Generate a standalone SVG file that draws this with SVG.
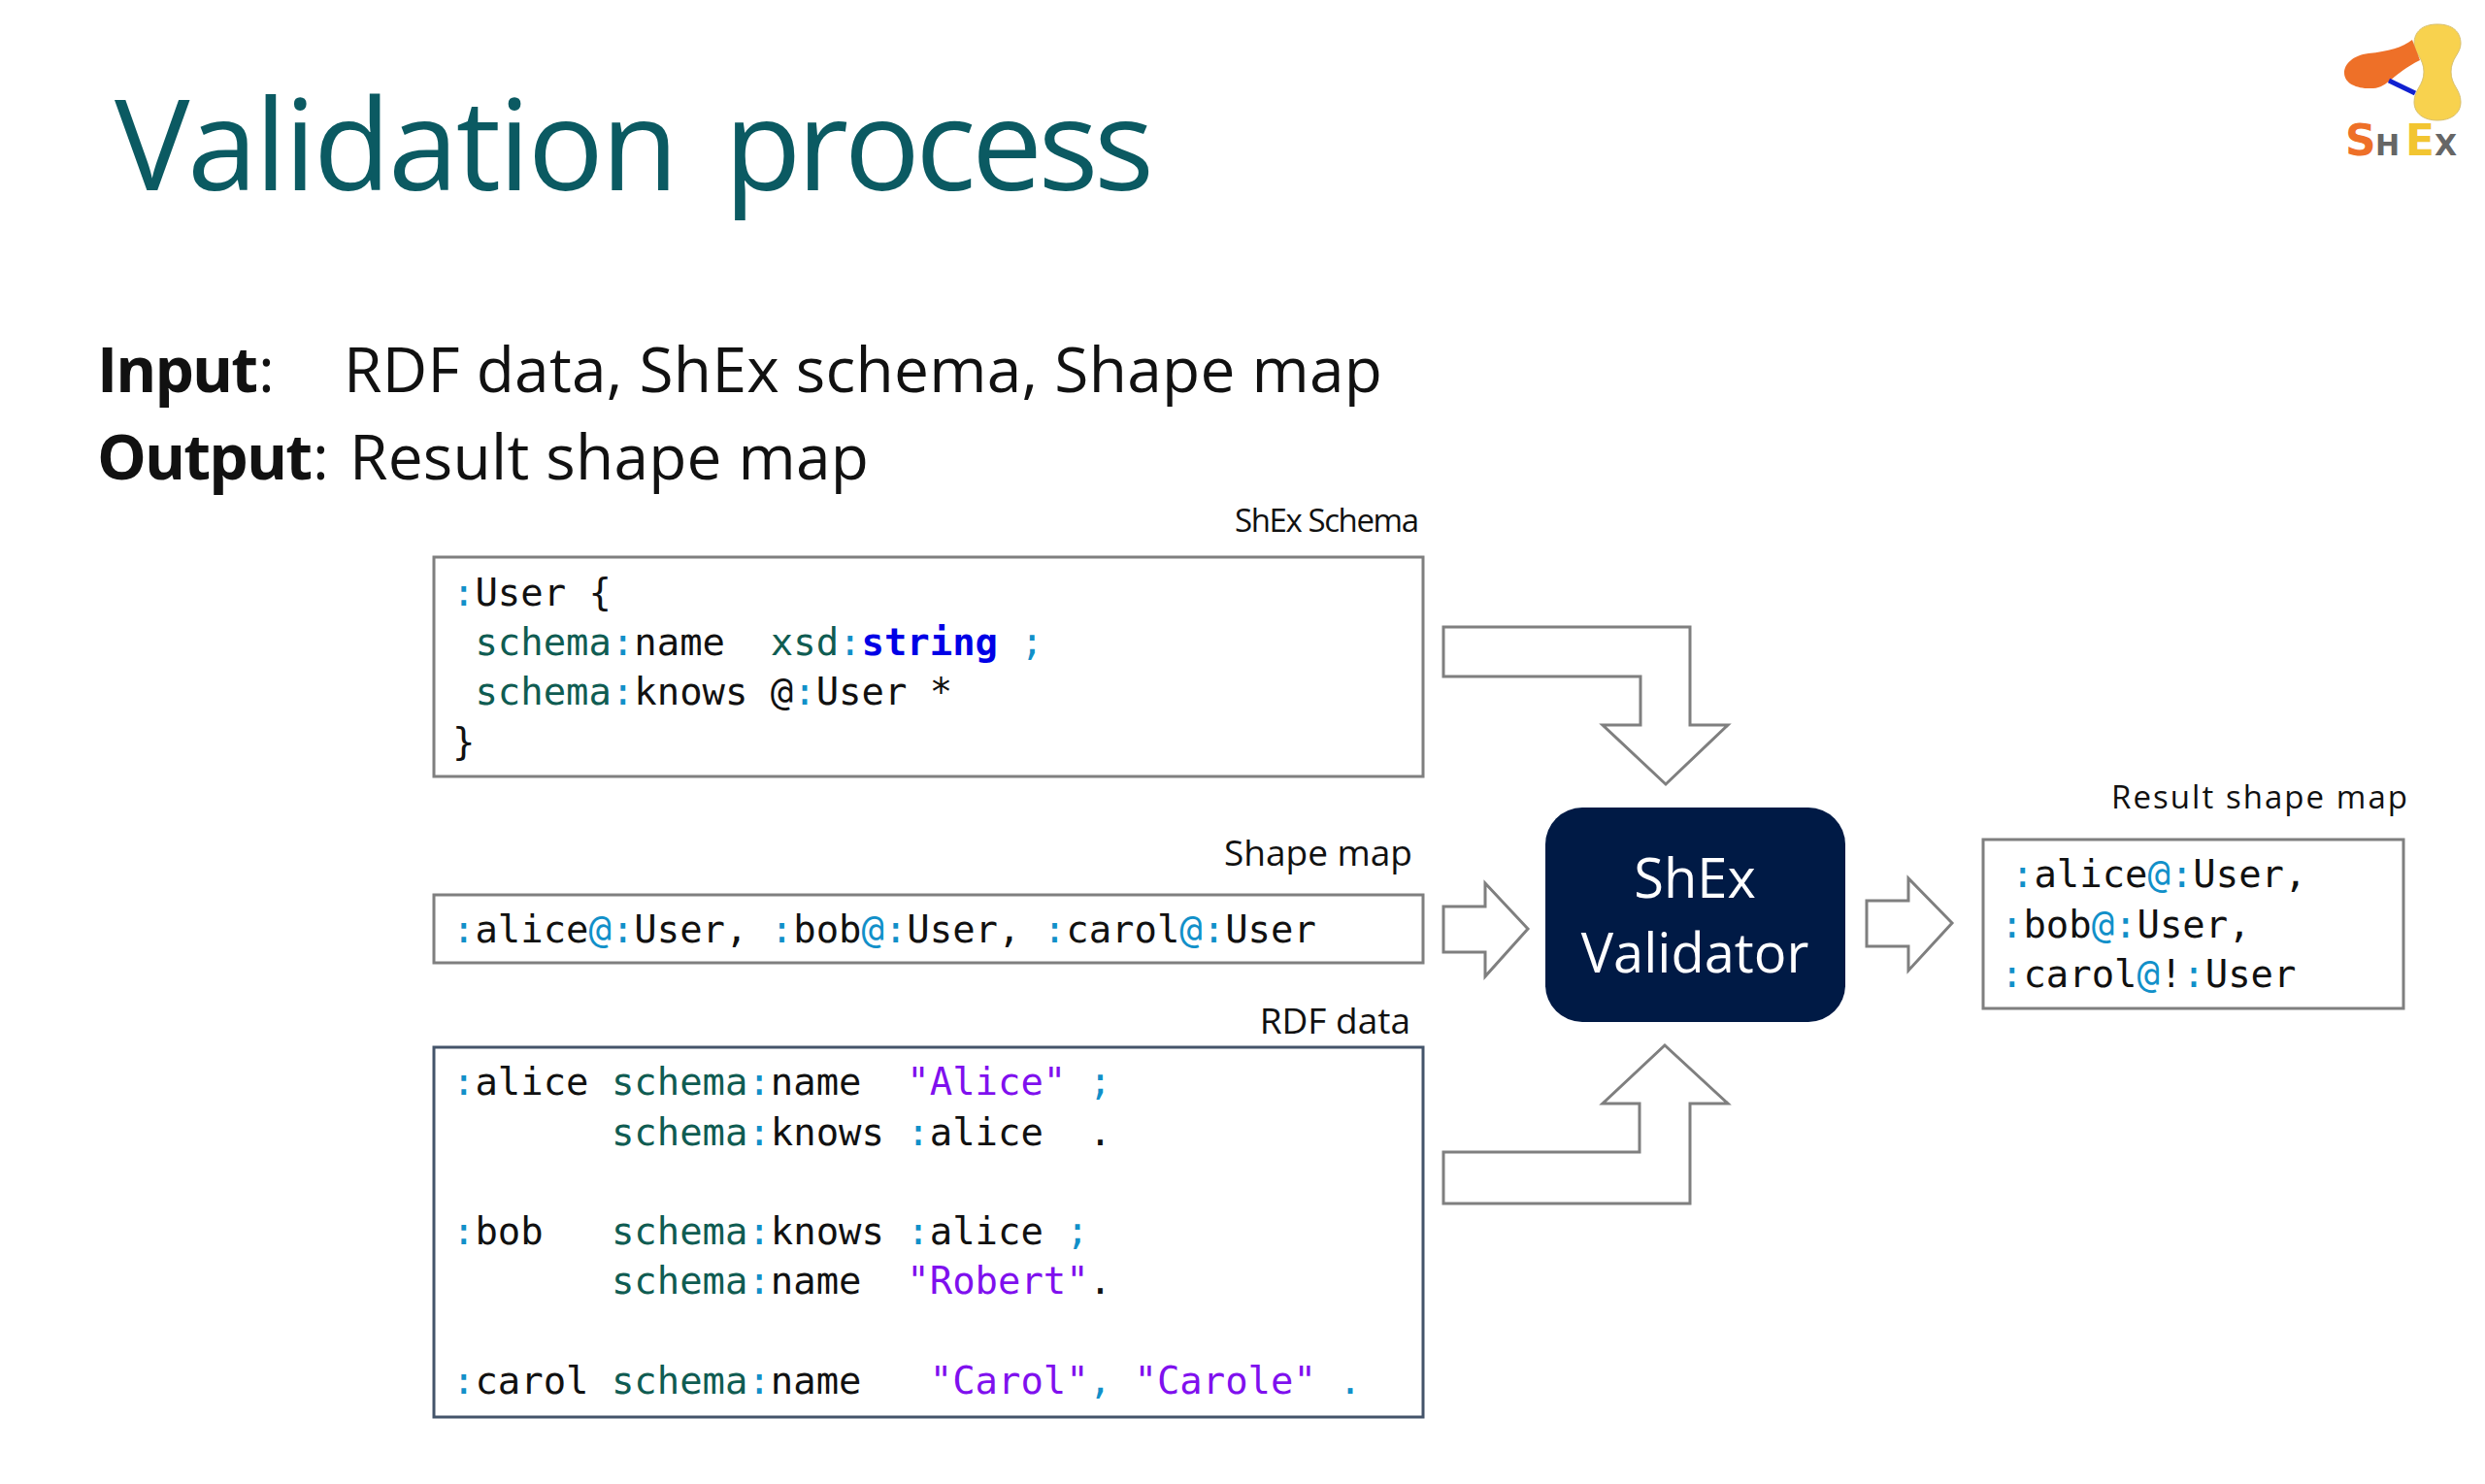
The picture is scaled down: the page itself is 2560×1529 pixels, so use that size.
<svg xmlns="http://www.w3.org/2000/svg" width="2560" height="1529" viewBox="0 0 2560 1529">
<style>
text{white-space:pre}
.ui{font-family:"Open Sans","Noto Sans","Liberation Sans",sans-serif;fill:#111}
.lb{text-anchor:end}
.hd{font-size:64px}
.code{font-family:"DejaVu Sans Mono","Liberation Mono",monospace;font-size:38.9px;fill:#111}
.box{fill:#fff;stroke:#7f7f7f;stroke-width:3}
.arrow{fill:#fff;stroke:#7f7f7f;stroke-width:3;stroke-linejoin:miter}
.c{fill:#1190c9}.s{fill:#0f5c52}.k{fill:#0000e6;font-weight:bold}.l{fill:#7f10ee}
</style>
<rect width="2560" height="1529" fill="#fff"/>
<g id="title"><text y="196" class="ui" font-size="130" font-weight="400" style="fill:#0b5a62"><tspan x="118" textLength="581">Validation</tspan> <tspan x="746" textLength="443">process</tspan></text></g>
<g id="logo">
<path d="M2511 25C2527 25 2535 33 2535 45C2535 55 2525 60 2525 74C2525 88 2535 92 2535 105C2535 117 2525 124 2511 124C2497 124 2487 117 2487 105C2487 92 2497 88 2497 74C2497 60 2487 55 2487 45C2487 33 2495 25 2511 25Z" fill="#f8d24e" stroke="#d8c070" stroke-width="1"/>
<path d="M2485 41C2475 49 2460 53 2440 55C2424 57 2415 66 2415 75C2415 87 2430 92 2445 91C2460 90 2465 76 2493 62Z" fill="#ee7028"/>
<path d="M2461 83L2488 96" stroke="#1020d0" stroke-width="5" fill="none"/>
<g font-family="'DejaVu Sans','Liberation Sans',sans-serif" font-weight="bold">
<text x="2416" y="160" font-size="44" fill="#ee7028">S</text>
<text x="2447" y="160" font-size="30" fill="#666">H</text>
<text x="2478" y="160" font-size="44" fill="#f2c531">E</text>
<text x="2508" y="160" font-size="30" fill="#666">X</text>
</g>
</g>
<g id="io">
<text x="100" y="404" class="ui hd" font-weight="bold" textLength="166">Input</text><text x="266" y="404" class="ui hd">:</text>
<text x="354" y="404" class="ui hd" textLength="1070">RDF data, ShEx schema, Shape map</text>
<text x="100" y="494" class="ui hd" font-weight="bold" textLength="222">Output</text><text x="322" y="494" class="ui hd">:</text>
<text x="360" y="494" class="ui hd" textLength="535">Result shape map</text>
</g>
<g id="connectors">
<path class="arrow" d="M1487 646H1741V747H1780L1716 808L1651 747H1690V697H1487Z"/>
<path class="arrow" d="M1487 934H1530V910L1574 957L1530 1006V981H1487Z"/>
<path class="arrow" d="M1487 1240H1741V1137H1780L1715 1077L1651 1137H1689V1187H1487Z"/>
<path class="arrow" d="M1923 928H1966V905L2011 951L1966 1000V975H1923Z"/>
</g>
<g id="shex-schema">
<text x="1462" y="548" class="ui lb" font-size="33" textLength="190">ShEx Schema</text>
<rect class="box" x="447" y="574" width="1019" height="226"/>
<text class="code" x="466" y="624"><tspan class="c">:</tspan>User {</text>
<text class="code" x="466" y="675"> <tspan class="s">schema</tspan><tspan class="c">:</tspan>name  <tspan class="s">xsd</tspan><tspan class="c">:</tspan><tspan class="k">string</tspan> <tspan class="c">;</tspan></text>
<text class="code" x="466" y="726"> <tspan class="s">schema</tspan><tspan class="c">:</tspan>knows @<tspan class="c">:</tspan>User *</text>
<text class="code" x="466" y="778">}</text>
</g>
<g id="shape-map">
<text x="1455" y="892" class="ui lb" font-size="37">Shape map</text>
<rect class="box" x="447" y="922" width="1019" height="70"/>
<text class="code" x="466" y="971"><tspan class="c">:</tspan>alice<tspan class="c">@:</tspan>User, <tspan class="c">:</tspan>bob<tspan class="c">@:</tspan>User, <tspan class="c">:</tspan>carol<tspan class="c">@:</tspan>User</text>
</g>
<g id="rdf-data">
<text x="1453" y="1065" class="ui lb" font-size="37">RDF data</text>
<rect x="447" y="1079" width="1019" height="381" fill="#fff" stroke="#44546a" stroke-width="3"/>
<text class="code" x="466" y="1128"><tspan class="c">:</tspan>alice <tspan class="s">schema</tspan><tspan class="c">:</tspan>name  <tspan class="l">"Alice"</tspan> <tspan class="c">;</tspan></text>
<text class="code" x="466" y="1180">       <tspan class="s">schema</tspan><tspan class="c">:</tspan>knows <tspan class="c">:</tspan>alice  .</text>
<text class="code" x="466" y="1282"><tspan class="c">:</tspan>bob   <tspan class="s">schema</tspan><tspan class="c">:</tspan>knows <tspan class="c">:</tspan>alice <tspan class="c">;</tspan></text>
<text class="code" x="466" y="1333">       <tspan class="s">schema</tspan><tspan class="c">:</tspan>name  <tspan class="l">"Robert"</tspan>.</text>
<text class="code" x="466" y="1436"><tspan class="c">:</tspan>carol <tspan class="s">schema</tspan><tspan class="c">:</tspan>name   <tspan class="l">"Carol"</tspan><tspan class="c">,</tspan> <tspan class="l">"Carole"</tspan> <tspan class="c">.</tspan></text>
</g>
<g id="validator">
<rect x="1592" y="832" width="309" height="221" rx="38" fill="#001a45"/>
<text x="1746" y="925" class="ui" font-size="56" text-anchor="middle" style="fill:#fff">ShEx</text>
<text x="1746" y="1002" class="ui" font-size="56" text-anchor="middle" style="fill:#fff">Validator</text>
</g>
<g id="result-shape-map">
<text x="2480" y="833" class="ui lb" font-size="33" textLength="305">Result shape map</text>
<rect class="box" x="2043" y="865" width="433" height="174"/>
<text class="code" x="2072" y="914"><tspan class="c">:</tspan>alice<tspan class="c">@:</tspan>User,</text>
<text class="code" x="2061" y="966"><tspan class="c">:</tspan>bob<tspan class="c">@:</tspan>User,</text>
<text class="code" x="2061" y="1017"><tspan class="c">:</tspan>carol<tspan class="c">@</tspan>!<tspan class="c">:</tspan>User</text>
</g>
</svg>
